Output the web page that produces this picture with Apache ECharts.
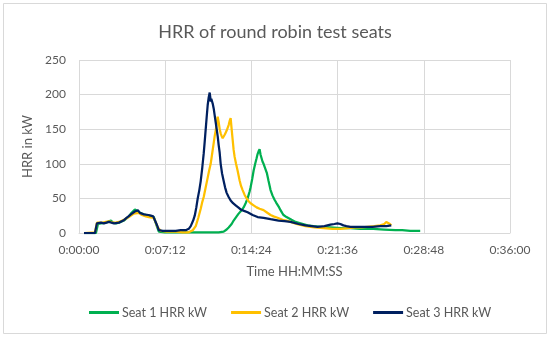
<!DOCTYPE html>
<html>
<head>
<meta charset="utf-8">
<script src="https://cdn.jsdelivr.net/npm/echarts@6/dist/echarts.min.js"></script>
<style>
html,body{margin:0;padding:0;background:#fff;}
#chart{width:550px;height:338px;}
</style>
</head>
<body>
<div id="chart"></div>
<script>
var chartTitle = "HRR of round robin test seats";
var seriesNames = ["Seat 1 HRR kW", "Seat 2 HRR kW", "Seat 3 HRR kW"];
var seriesColors = ["#00B050", "#FFC000", "#002060"];
var yAxisName = "HRR in kW";
var xAxisName = "Time HH:MM:SS";

// [seconds, kW]
var seat1Data = [
  [25,0],[85,0],[95,13],[100,15],[110,14],[120,16],[135,15],[145,17],[160,18],[170,15],[185,14],[200,15],[210,15],[225,18],[235,20],[250,24],[260,28],[270,31],[280,34],[290,32],[300,30],[315,28],[335,26],[350,25],[360,24],[375,23],[380,23],[390,10],[400,2],
  [430,1],[460,1],[500,1],[560,1],[620,1],[660,1],[700,1],[725,2],[740,5],[750,8],[765,13],[775,18],[790,24],[800,28],[815,33],[825,37],[835,43],[845,50],[855,60],[860,66],[868,78],[875,90],[883,100],[890,108],[895,114],[900,118],[905,121],[910,113],[915,108],[920,103],[925,100],[930,101],[935,98],[942,86],[950,75],[960,62],[970,54],[980,48],[988,44],[995,42],[1003,37],[1010,33],[1018,29],[1025,26],[1040,23],[1050,22],[1065,19],[1085,16],[1110,14],[1145,11],[1175,10],[1210,9],[1260,8],[1310,7],[1360,7],[1410,6],[1440,6],[1475,6],[1530,5],[1585,4],[1620,4],[1660,3],[1710,3]
];

var seat2Data = [
  [25,0],[80,1],[90,15],[100,16],[120,15],[135,16],[150,17],[170,15],[185,15],[200,16],[210,17],[225,19],[235,20],[250,23],[260,25],[275,28],[285,30],[300,29],[315,26],[335,24],[350,23],[360,22],[375,22],[385,22],[395,8],[410,3],
  [440,2],[485,2],[520,1],[550,1],[570,4],[585,10],[598,22],[610,35],[618,45],[625,52],[635,66],[645,80],[652,90],[660,100],[668,116],[675,130],[680,140],[685,148],[690,158],[695,168],[700,160],[705,150],[710,144],[715,140],[720,137],[725,138],[730,142],[735,145],[740,148],[745,150],[750,156],[755,162],[760,166],[765,150],[770,135],[775,120],[780,110],[787,100],[795,90],[805,76],[812,68],[820,62],[830,55],[840,50],[850,46],[860,43],[875,40],[890,37],[905,35],[925,33],[940,30],[960,26],[975,24],[995,22],[1020,19],[1040,18],[1060,16],[1090,13],[1135,10],[1180,8],[1225,7],[1270,6],[1310,6],[1350,7],[1385,8],[1415,8],[1445,9],[1480,10],[1510,11],[1530,13],[1540,16],[1550,15],[1558,13],[1565,11]
];

var seat3Data = [
  [25,0],[80,0],[90,14],[100,15],[110,15],[125,14],[135,14],[150,16],[160,16],[175,14],[185,14],[200,15],[210,16],[222,18],[235,21],[248,24],[260,27],[270,29],[280,31],[290,33],[295,33],[305,29],[310,28],[325,27],[335,27],[348,26],[360,25],[372,24],[380,24],[390,12],[400,4],
  [420,3],[435,3],[460,3],[485,3],[510,4],[535,4],[550,6],[560,10],[572,18],[580,25],[588,37],[595,50],[603,62],[610,75],[618,95],[625,115],[630,132],[635,150],[640,168],[645,185],[650,196],[655,203],[658,196],[660,190],[663,194],[665,195],[670,187],[675,180],[680,170],[685,160],[690,150],[695,140],[700,127],[705,116],[710,100],[717,86],[725,75],[732,66],[740,58],[750,52],[760,47],[772,43],[785,40],[798,37],[810,34],[827,32],[845,30],[870,26],[895,23],[925,22],[960,20],[1000,18],[1030,17],[1060,16],[1100,13],[1135,11],[1165,10],[1195,9],[1230,10],[1260,12],[1280,13],[1295,14],[1310,13],[1325,11],[1340,10],[1360,9],[1400,9],[1435,9],[1470,9],[1510,10],[1540,10],[1565,11]
];

var yMin = 0, yMax = 250, yStep = 50;
var xMin = 0, xMax = 2160, xStep = 432;

function fmtTime(v) {
  var h = Math.floor(v / 3600);
  var m = Math.floor((v % 3600) / 60);
  var s = Math.round(v % 60);
  return h + ":" + (m < 10 ? "0" : "") + m + ":" + (s < 10 ? "0" : "") + s;
}

var FONT = "Lato";
var TXT = "#595959";
var GRID = "#D9D9D9";

var chart = echarts.init(document.getElementById("chart"), null, {renderer: "canvas"});
var allData = [seat1Data, seat2Data, seat3Data];
chart.setOption({
  animation: false,
  backgroundColor: "#ffffff",
  textStyle: {fontFamily: FONT},
  title: {
    text: chartTitle,
    left: "center",
    top: 18,
    textStyle: {fontFamily: FONT, fontSize: 18, fontWeight: "normal", color: TXT}
  },
  graphic: [{
    type: "rect",
    shape: {x: 3.5, y: 3.5, width: 543, height: 330},
    style: {fill: "none", stroke: GRID, lineWidth: 1},
    silent: true
  }],
  legend: {
    bottom: 14,
    left: 84,
    itemWidth: 30,
    itemHeight: 3,
    itemGap: 24,
    icon: "rect",
    textStyle: {fontFamily: FONT, fontSize: 12.5, color: TXT, padding: [0, 0, 0, -2]},
    data: seriesNames
  },
  grid: {left: 79, right: 40, top: 60, bottom: 105, containLabel: false},
  xAxis: {
    type: "value",
    min: xMin, max: xMax, interval: xStep,
    name: xAxisName,
    nameLocation: "middle",
    nameGap: 32,
    nameTextStyle: {fontFamily: FONT, fontSize: 13, color: TXT},
    axisLine: {show: true, lineStyle: {color: GRID, width: 1}},
    axisTick: {show: false},
    axisLabel: {formatter: fmtTime, fontFamily: FONT, fontSize: 12, color: TXT, margin: 11},
    splitLine: {show: true, lineStyle: {color: GRID, width: 1}}
  },
  yAxis: {
    type: "value",
    min: yMin, max: yMax, interval: yStep,
    name: yAxisName,
    nameLocation: "middle",
    nameGap: 40,
    nameTextStyle: {fontFamily: FONT, fontSize: 13, color: TXT},
    axisLine: {show: false},
    axisTick: {show: false},
    axisLabel: {fontFamily: FONT, fontSize: 12, color: TXT, margin: 13},
    splitLine: {show: true, lineStyle: {color: GRID, width: 1}}
  },
  series: seriesNames.map(function (n, i) {
    return {
      name: n,
      type: "line",
      data: allData[i],
      showSymbol: false,
      symbol: "none",
      color: seriesColors[i],
      lineStyle: {color: seriesColors[i], width: 2.25},
      z: 2 + i
    };
  })
});
</script>
</body>
</html>
